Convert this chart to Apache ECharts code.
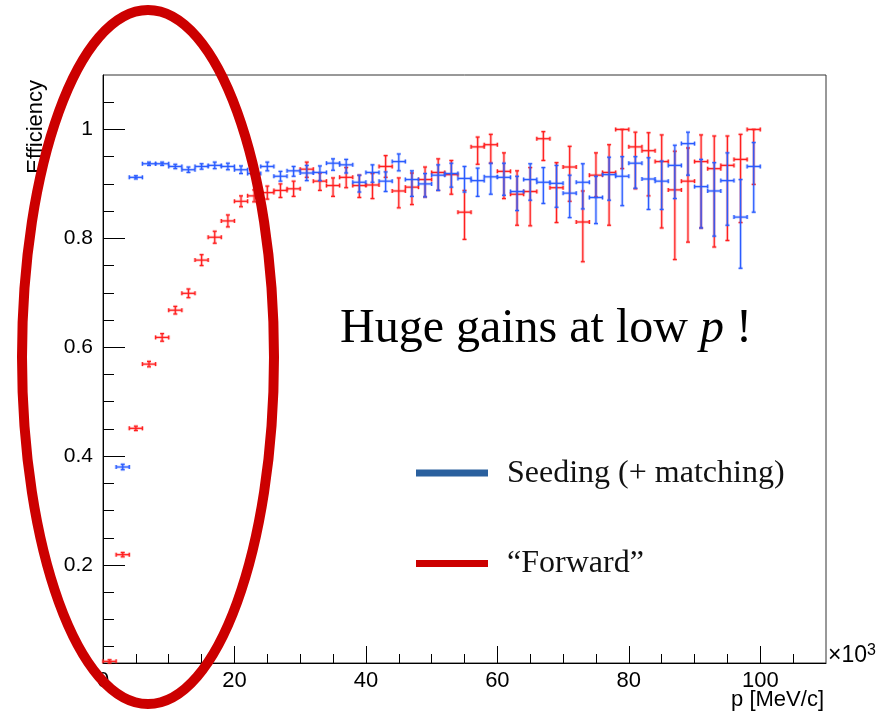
<!DOCTYPE html>
<html>
<head>
<meta charset="utf-8">
<script src="https://cdn.jsdelivr.net/npm/echarts@6/dist/echarts.min.js"></script>
<style>
  html, body { margin: 0; padding: 0; background: #fff; }
  #main { width: 889px; height: 718px; }
</style>
</head>
<body>
<div id="main"></div>
<script>
// bin centres in units of 10^3 MeV/c, bin width 2
var pBins = [1, 3, 5, 7, 9, 11, 13, 15, 17, 19, 21, 23, 25, 27, 29, 31, 33, 35, 37, 39,
             41, 43, 45, 47, 49, 51, 53, 55, 57, 59, 61, 63, 65, 67, 69, 71, 73, 75, 77, 79,
             81, 83, 85, 87, 89, 91, 93, 95, 97, 99];

// "Seeding (+ matching)" efficiency, lower and upper error ends
var seedEff = [null, 0.380, 0.912, 0.937, 0.937, 0.932, 0.926, 0.932, 0.934, 0.932,
               0.926, 0.919, 0.932, 0.914, 0.924, 0.920, 0.921, 0.938, 0.935, 0.903,
               0.921, 0.905, 0.941, 0.908, 0.900, 0.916, 0.919, 0.910, 0.906, 0.913,
               0.912, 0.886, 0.908, 0.903, 0.901, 0.883, 0.903, 0.875, 0.917, 0.914,
               0.938, 0.909, 0.905, 0.934, 0.974, 0.895, 0.887, 0.906, 0.839, 0.932];
var seedLo = [null, 0.375, 0.909, 0.934, 0.934, 0.928, 0.921, 0.927, 0.928, 0.926,
              0.919, 0.911, 0.924, 0.905, 0.914, 0.906, 0.906, 0.925, 0.920, 0.885,
              0.903, 0.886, 0.924, 0.877, 0.876, 0.888, 0.894, 0.885, 0.877, 0.881,
              0.879, 0.851, 0.870, 0.864, 0.857, 0.838, 0.854, 0.827, 0.870, 0.860,
              0.892, 0.853, 0.853, 0.873, 0.916, 0.819, 0.804, 0.824, 0.745, 0.848];
var seedHi = [null, 0.385, 0.915, 0.940, 0.940, 0.936, 0.931, 0.937, 0.940, 0.938,
              0.933, 0.927, 0.940, 0.923, 0.932, 0.934, 0.933, 0.946, 0.945, 0.916,
              0.935, 0.922, 0.955, 0.924, 0.919, 0.935, 0.938, 0.932, 0.929, 0.938,
              0.938, 0.914, 0.937, 0.930, 0.934, 0.916, 0.937, 0.914, 0.949, 0.950,
              0.950, 0.948, 0.942, 0.971, 0.995, 0.945, 0.939, 0.957, 0.908, 0.976];

// "Forward" efficiency, lower and upper error ends
var fwdEff = [0.023, 0.219, 0.451, 0.569, 0.618, 0.668, 0.699, 0.760, 0.802, 0.832,
              0.868, 0.878, 0.884, 0.888, 0.891, 0.927, 0.905, 0.897, 0.912, 0.897,
              0.898, 0.932, 0.887, 0.894, 0.908, 0.921, 0.917, 0.848, 0.968, 0.972,
              0.923, 0.881, 0.886, 0.983, 0.893, 0.931, 0.830, 0.916, 0.921, 1.000,
              0.968, 0.961, 0.941, 0.889, 0.905, 0.941, 0.928, 0.934, 0.945, 1.000];
var fwdLo = [0.020, 0.215, 0.447, 0.564, 0.611, 0.661, 0.691, 0.750, 0.791, 0.821,
             0.858, 0.867, 0.872, 0.875, 0.877, 0.912, 0.888, 0.877, 0.893, 0.875,
             0.873, 0.912, 0.856, 0.862, 0.876, 0.888, 0.881, 0.798, 0.936, 0.938,
             0.873, 0.824, 0.823, 0.943, 0.829, 0.868, 0.757, 0.876, 0.824, 0.928,
             0.891, 0.878, 0.819, 0.761, 0.793, 0.819, 0.784, 0.796, 0.829, 0.899];
var fwdHi = [0.026, 0.223, 0.455, 0.574, 0.625, 0.675, 0.707, 0.770, 0.813, 0.843,
             0.878, 0.889, 0.896, 0.900, 0.905, 0.940, 0.920, 0.911, 0.930, 0.916,
             0.919, 0.952, 0.911, 0.920, 0.931, 0.946, 0.943, 0.888, 0.986, 0.991,
             0.957, 0.924, 0.930, 0.996, 0.939, 0.969, 0.887, 0.957, 0.972, 1.000,
             0.995, 0.994, 0.990, 0.960, 0.966, 0.990, 0.988, 0.988, 0.991, 1.000];

var xMajor = [0, 20, 40, 60, 80, 100];
var xMinor = [5, 10, 15, 25, 30, 35, 45, 50, 55, 65, 70, 75, 85, 90, 95, 105];
var yMajor = [0.2, 0.4, 0.6, 0.8, 1];
var yMinor = [0.05, 0.1, 0.15, 0.25, 0.3, 0.35, 0.45, 0.5, 0.55, 0.65, 0.7, 0.75,
              0.85, 0.9, 0.95, 1.05];

var BIN_HALF = 1;

function rows(eff, lo, hi) {
  var out = [];
  for (var i = 0; i < pBins.length; i++) {
    if (eff[i] == null) continue;
    out.push([pBins[i], eff[i], lo[i], hi[i]]);
  }
  return out;
}

// ROOT-like error cross with little end caps
function renderBars(params, api) {
  var x = api.value(0), y = api.value(1);
  var c = api.coord([x, y]);
  var l = api.coord([x - BIN_HALF, y]);
  var r = api.coord([x + BIN_HALF, y]);
  var t = api.coord([x, api.value(3)]);
  var b = api.coord([x, api.value(2)]);
  var col = api.visual('color');
  var cap = 2;
  var segs = [
    [l[0], c[1], r[0], c[1]],
    [c[0], t[1], c[0], b[1]],
    [l[0], c[1] - cap, l[0], c[1] + cap],
    [r[0], c[1] - cap, r[0], c[1] + cap],
    [c[0] - cap, t[1], c[0] + cap, t[1]],
    [c[0] - cap, b[1], c[0] + cap, b[1]]
  ];
  var children = [];
  segs.forEach(function (s) {
    children.push({ type: 'line', shape: { x1: s[0], y1: s[1], x2: s[2], y2: s[3] },
      style: { stroke: col, lineWidth: 3, opacity: 0.25 } });
  });
  segs.forEach(function (s) {
    children.push({ type: 'line', shape: { x1: s[0], y1: s[1], x2: s[2], y2: s[3] },
      style: { stroke: col, lineWidth: 1.2 } });
  });
  return { type: 'group', children: children };
}

var chart = echarts.init(document.getElementById('main'));
var option = {
  animation: false,
  grid: {
    left: 103, right: 63, top: 75, bottom: 55,
    show: true, borderColor: '#333', borderWidth: 1,
    outerBoundsMode: 'none'
  },
  xAxis: [
    {
      type: 'value', position: 'bottom', min: 0, max: 110,
      axisLine: { show: true, lineStyle: { color: '#000', width: 1 } },
      axisTick: { show: true, inside: true, length: 17, customValues: xMajor,
                  lineStyle: { color: '#000' } },
      axisLabel: { customValues: xMajor, color: '#000', fontSize: 22,
                   fontFamily: 'Liberation Sans', margin: 7 },
      splitLine: { show: false }
    },
    {
      type: 'value', position: 'bottom', min: 0, max: 110,
      axisLine: { show: false },
      axisTick: { show: true, inside: true, length: 9, customValues: xMinor,
                  lineStyle: { color: '#000' } },
      axisLabel: { show: false },
      splitLine: { show: false }
    }
  ],
  yAxis: [
    {
      type: 'value', position: 'left', min: 0.02, max: 1.1,
      axisLine: { show: true, lineStyle: { color: '#000', width: 1 } },
      axisTick: { show: true, inside: true, length: 22, customValues: yMajor,
                  lineStyle: { color: '#000' } },
      axisLabel: { customValues: yMajor, color: '#000', fontSize: 21,
                   fontFamily: 'Liberation Sans', margin: 10 },
      splitLine: { show: false }
    },
    {
      type: 'value', position: 'left', min: 0.02, max: 1.1,
      axisLine: { show: false },
      axisTick: { show: true, inside: true, length: 11, customValues: yMinor,
                  lineStyle: { color: '#000' } },
      axisLabel: { show: false },
      splitLine: { show: false }
    }
  ],
  series: [
    {
      name: 'Forward', type: 'custom', renderItem: renderBars,
      xAxisIndex: 0, yAxisIndex: 0, encode: { x: 0, y: 1 },
      itemStyle: { color: '#ff1f1f' },
      data: rows(fwdEff, fwdLo, fwdHi)
    },
    {
      name: 'Seeding', type: 'custom', renderItem: renderBars,
      xAxisIndex: 0, yAxisIndex: 0, encode: { x: 0, y: 1 },
      itemStyle: { color: '#2a5cff' },
      data: rows(seedEff, seedLo, seedHi)
    }
  ],
  graphic: [
    { type: 'text', left: 25, top: 80, rotation: Math.PI / 2,
      style: { text: 'Efficiency', font: '22px "Liberation Sans"', fill: '#000' } },
    { type: 'text', right: 65, top: 689,
      style: { text: 'p [MeV/c]', font: '22px "Liberation Sans"', fill: '#000' } },
    { type: 'text', left: 828, top: 643,
      style: { text: '×10{s|3}', font: '23px "Liberation Sans"', fill: '#000',
               rich: { s: { fontSize: 16, verticalAlign: 'top', padding: [0, 0, 10, 0] } } } },
    { type: 'text', left: 340, top: 305, z: 50,
      style: {
        text: '{a|Huge gains at low }{b|p}{a| !}', fill: '#000',
        rich: {
          a: { fontFamily: 'Liberation Serif', fontSize: 48, fill: '#000' },
          b: { fontFamily: 'Liberation Serif', fontSize: 48, fontStyle: 'italic', fill: '#000' }
        }
      } },
    { type: 'line', z: 50, shape: { x1: 416, y1: 473, x2: 488, y2: 473 },
      style: { stroke: '#2a609e', lineWidth: 7 } },
    { type: 'text', left: 507, top: 458, z: 50,
      style: { text: 'Seeding (+ matching)', font: '32px "Liberation Serif"', fill: '#111' } },
    { type: 'line', z: 50, shape: { x1: 416, y1: 563.5, x2: 488, y2: 563.5 },
      style: { stroke: '#cc0000', lineWidth: 7 } },
    { type: 'text', left: 507, top: 548, z: 50,
      style: { text: '\u201CForward\u201D', font: '32px "Liberation Serif"', fill: '#111' } },
    { type: 'ellipse', z: 100, shape: { cx: 148, cy: 357, rx: 126, ry: 347 },
      style: { fill: 'none', stroke: '#cc0000', lineWidth: 10 } }
  ]
};
chart.setOption(option);
</script>
</body>
</html>
